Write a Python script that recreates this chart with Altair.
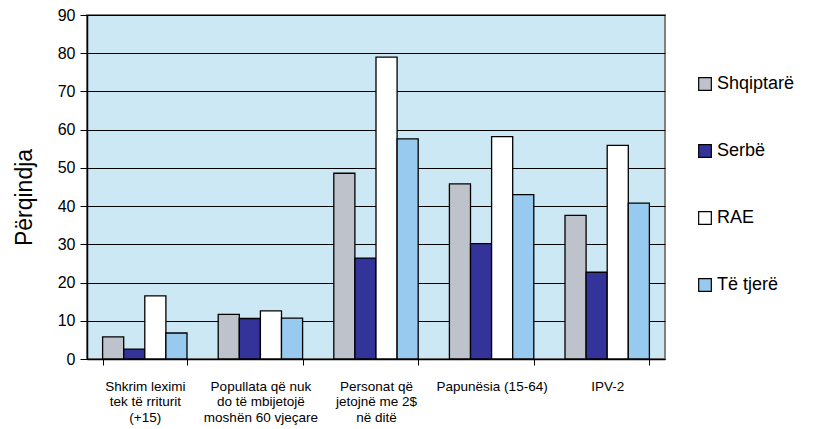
import altair as alt
import pandas as pd

categories = [
    "Shkrim leximi|tek të rriturit|(+15)",
    "Popullata që nuk|do të mbijetojë|moshën 60 vjeçare",
    "Personat që|jetojnë me 2$|në ditë",
    "Papunësia (15-64)",
    "IPV-2",
]
series = ["Shqiptarë", "Serbë", "RAE", "Të tjerë"]
colors = ["#BEC2CB", "#333399", "#FFFFFF", "#97CAEE"]

shqiptare = [5.8, 11.7, 48.6, 45.8, 37.6]
serbe = [2.6, 10.6, 26.4, 30.2, 22.7]
rae = [16.5, 12.6, 79.0, 58.2, 55.9]
te_tjere = [6.8, 10.7, 57.6, 43.0, 40.8]

values = [shqiptare, serbe, rae, te_tjere]
rows = []
for s, vals in zip(series, values):
    for c, v in zip(categories, vals):
        rows.append({"cat": c, "group": s, "value": v})
df = pd.DataFrame(rows)

FONT = "Liberation Sans"

chart = alt.Chart(df).mark_bar(stroke="#000000", strokeWidth=1.3).encode(
    x=alt.X(
        "cat:N",
        sort=categories,
        title=None,
        scale=alt.Scale(paddingInner=0.27, paddingOuter=0.135),
        axis=alt.Axis(
            labelAngle=0,
            labelExpr="split(datum.label, '|')",
            labelFont=FONT,
            labelFontSize=13.5,
            labelColor="#000000",
            labelPadding=14,
            labelLineHeight=15.5,
            labelBaseline="top",
            tickBand="extent",
            tickColor="#000000",
            tickSize=6,
            domainColor="#000000",
            domainWidth=1.5,
            grid=False,
        ),
    ),
    xOffset=alt.XOffset("group:N", sort=series),
    y=alt.Y(
        "value:Q",
        title="Përqindja",
        scale=alt.Scale(domain=[0, 90]),
        axis=alt.Axis(
            values=list(range(0, 91, 10)),
            labelFont=FONT,
            labelFontSize=16,
            labelColor="#000000",
            labelPadding=5,
            titleFont=FONT,
            titleFontSize=23,
            titleFontWeight="normal",
            titleColor="#000000",
            titlePadding=21,
            titleY=182,
            tickColor="#000000",
            tickSize=7,
            domainColor="#000000",
            domainWidth=1.5,
            gridColor="#000000",
            gridWidth=1.2,
        ),
    ),
    color=alt.Color(
        "group:N",
        sort=series,
        scale=alt.Scale(domain=series, range=colors),
        legend=alt.Legend(
            title=None,
            orient="none",
            legendX=609,
            legendY=60,
            symbolType="square",
            symbolSize=160,
            symbolStrokeColor="#000000",
            symbolStrokeWidth=1.2,
            labelFont=FONT,
            labelFontSize=18,
            labelColor="#000000",
            rowPadding=49,
            labelOffset=3,
        ),
    ),
).properties(
    width=578,
    height=344,
    autosize=alt.AutoSizeParams(type="none"),
    padding={"left": 79, "top": 7, "right": 146, "bottom": 70},
).configure(
    background="#FFFFFF",
    view=alt.ViewConfig(fill="#CCE8F4", stroke="#808080", strokeWidth=2),
)

chart.save("out.html", embed_options={"renderer": "svg", "actions": False})
